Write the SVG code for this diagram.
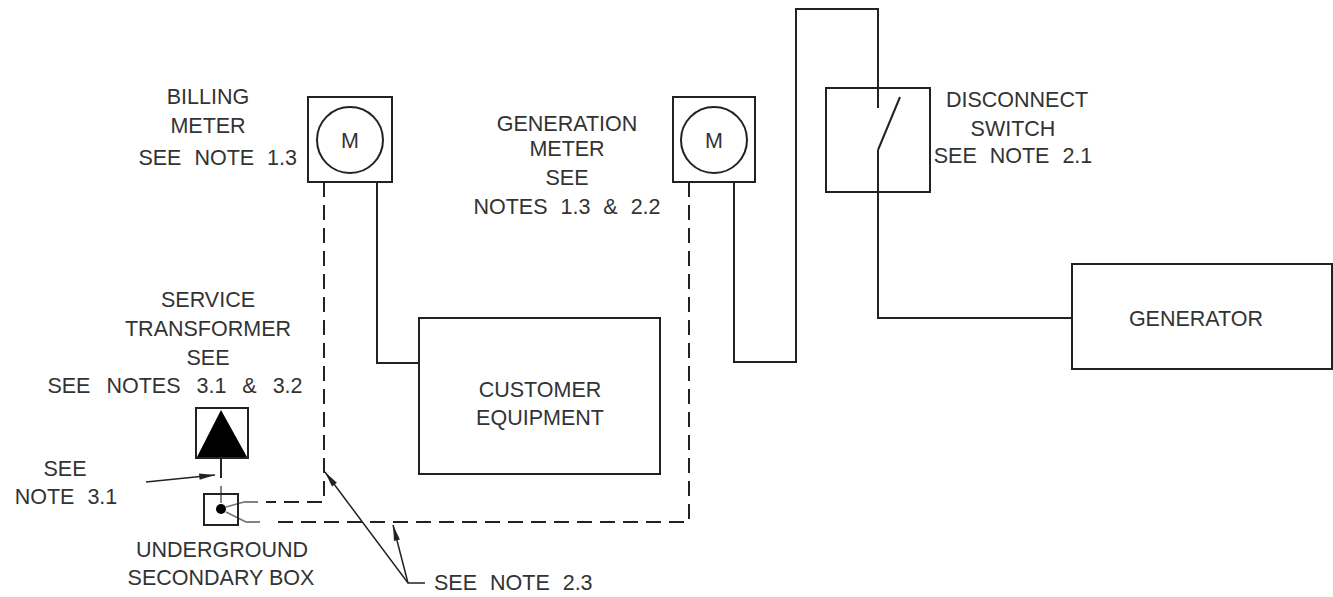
<svg xmlns="http://www.w3.org/2000/svg" width="1333" height="597" viewBox="0 0 1333 597">
<defs>
<marker id="ah2" viewBox="0 0 18 8" refX="18" refY="4" markerWidth="18" markerHeight="7" markerUnits="userSpaceOnUse" orient="auto">
<path d="M0,0.5 L18,4 L0,7.5 Z" fill="#222"/>
</marker>
<style>
.s{fill:none;stroke:#222;stroke-width:2}
.d{fill:none;stroke:#222;stroke-width:2;stroke-dasharray:15 8}
.l{fill:none;stroke:#222;stroke-width:1.5}
.g{fill:none;stroke:#777;stroke-width:1.8}
text{font-family:"Liberation Sans",Arial,sans-serif;font-size:21.5px;fill:#333}
.c{text-anchor:middle}
.w{word-spacing:7px}
</style>
</defs>
<rect width="1333" height="597" fill="#fff"/>

<g id="connectors">
<polyline class="s" points="377,182 377,363 419,363"/>
<polyline class="s" points="734,182 734,362 796,362 796,9 878,9 878,108"/>
<line class="s" x1="878" y1="150" x2="900" y2="97"/>
<polyline class="s" points="878,150 878,318 1072,318"/>
<polyline class="d" points="324,182 324,502 266,502"/>
<polyline class="d" points="689,182 689,522 270,522"/>
<line class="g" x1="226" y1="507" x2="244" y2="502"/>
<line class="g" x1="226" y1="512" x2="246" y2="522"/>
<line class="g" x1="246" y1="522" x2="260" y2="522"/>
<line class="g" x1="244" y1="502" x2="258" y2="502"/>
<line class="s" x1="221" y1="458" x2="221" y2="478"/>
<line class="g" x1="221" y1="486" x2="221" y2="503"/>
<line class="l" x1="146" y1="482" x2="215" y2="475" marker-end="url(#ah2)"/>
<polyline class="l" points="425,583 408,583 325,472" marker-end="url(#ah2)"/>
<line class="l" x1="408" y1="583" x2="393" y2="525" marker-end="url(#ah2)"/>
</g>

<g id="billing-meter">
<rect class="s" x="308" y="97" width="84" height="85"/>
<circle class="s" cx="350" cy="140" r="33" stroke-width="1.5"/>
<text class="c" x="350" y="148" font-size="18">M</text>
<text class="c" x="208" y="104">BILLING</text>
<text class="c" x="208" y="133">METER</text>
<text class="w" x="297" y="165" text-anchor="end">SEE NOTE 1.3</text>
</g>

<g id="generation-meter">
<rect class="s" x="673" y="97" width="82" height="85"/>
<circle class="s" cx="714" cy="140" r="33" stroke-width="1.5"/>
<text class="c" x="714" y="148" font-size="18">M</text>
<text class="c" x="567" y="131">GENERATION</text>
<text class="c" x="567" y="156">METER</text>
<text class="c" x="567" y="185">SEE</text>
<text class="c w" x="567" y="214">NOTES 1.3 &amp; 2.2</text>
</g>

<g id="disconnect-switch">
<rect class="s" x="826" y="88" width="104" height="104"/>
<text class="c" x="1017" y="107">DISCONNECT</text>
<text class="c" x="1013" y="136">SWITCH</text>
<text class="c w" x="1013" y="163">SEE NOTE 2.1</text>
</g>

<g id="generator">
<rect class="s" x="1072" y="264" width="260" height="105"/>
<text class="c" x="1196" y="326">GENERATOR</text>
</g>

<g id="customer-equipment">
<rect class="s" x="419" y="318" width="241" height="156"/>
<text class="c" x="540" y="397">CUSTOMER</text>
<text class="c" x="540" y="425">EQUIPMENT</text>
</g>

<g id="service-transformer">
<rect class="s" x="196" y="408" width="52" height="50"/>
<polygon points="221,410 197,457 247,457" fill="#000"/>
<text class="c" x="208" y="307">SERVICE</text>
<text class="c" x="208" y="336">TRANSFORMER</text>
<text class="c" x="208" y="365">SEE</text>
<text class="c" x="175" y="393" word-spacing="10">SEE NOTES 3.1 &amp; 3.2</text>
</g>

<g id="note-3-1">
<text class="c" x="65" y="476">SEE</text>
<text class="c w" x="66" y="504">NOTE 3.1</text>
</g>

<g id="underground-secondary-box">
<rect class="s" x="204" y="494" width="34" height="31"/>
<circle cx="221" cy="509" r="5" fill="#000"/>
<text class="c" x="222" y="557">UNDERGROUND</text>
<text class="c" x="221" y="585">SECONDARY BOX</text>
</g>

<g id="note-2-3">
<text class="w" x="434" y="590">SEE NOTE 2.3</text>
</g>
</svg>
